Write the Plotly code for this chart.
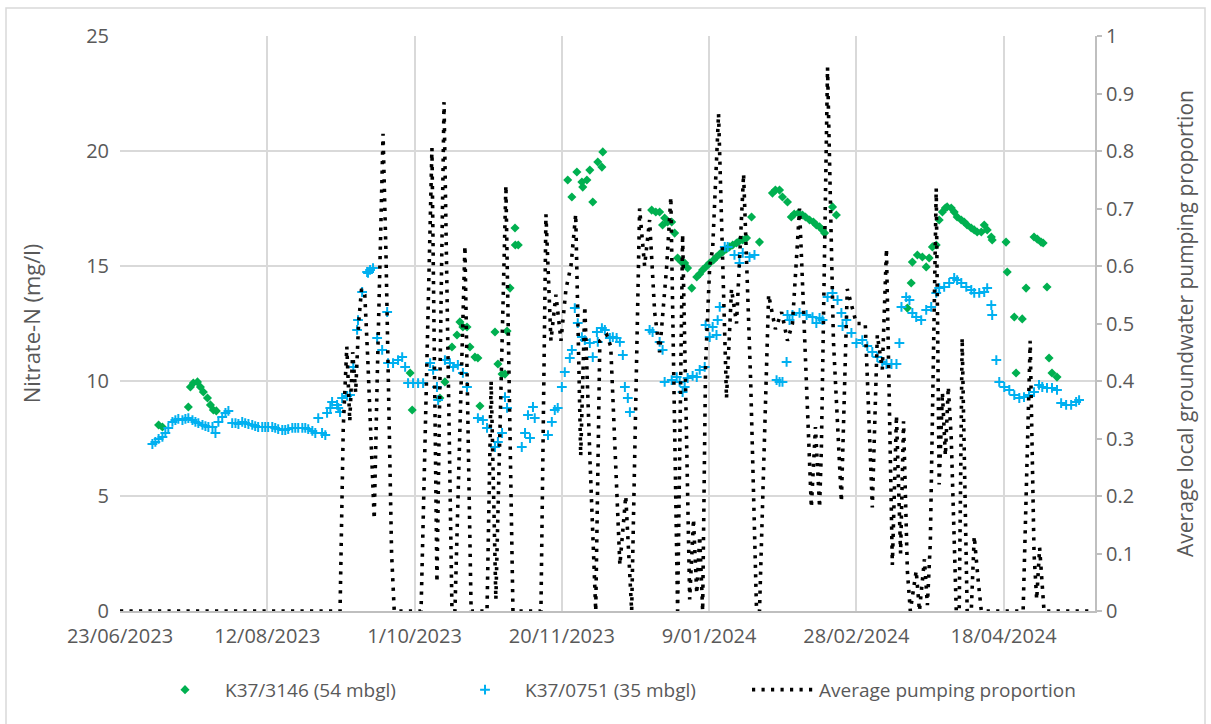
import pandas as pd
import plotly.graph_objects as go

START = pd.Timestamp("2023-06-23")
END_DAY = 331
TICK_DAYS = [0, 50, 100, 150, 200, 250, 300]

# K37/3146 (54 mbgl): sample day (days after START) and nitrate-N (mg/l)
k3146_day = [13.1, 14.4, 23.2, 23.9, 24.9, 26.3, 27.3, 28.3, 29.7, 30.7, 31.7, 32.7,
             98.5, 99.2, 108.6, 110.3, 112.7, 114.4, 115.4, 116.4, 117.8, 118.8, 120.5,
             121.5, 122.2, 127.3, 128.3, 129.7, 130.7, 131.4, 132.4, 134.1, 134.2, 135.2,
             152.0, 153.4, 155.1, 156.8, 157.1, 158.5, 159.5, 160.5, 162.2, 163.6, 163.9,
             180.5, 181.9, 183.2, 184.2, 184.9, 185.9, 187.3, 188.3, 189.3, 190.7, 191.7,
             192.7, 194.1, 195.8, 196.8, 197.8, 199.2, 200.2, 201.5, 202.5, 203.6, 204.6,
             205.9, 206.9, 208.0, 209.3, 210.3, 211.4, 212.7, 214.4, 217.1,
             221.5, 222.5, 223.9, 224.9, 226.6, 227.9, 228.9, 230.3, 231.7, 232.7, 234.1,
             235.4, 236.4, 237.5, 238.5, 239.2, 241.9, 243.2,
             267.3, 268.6, 269.0, 270.7, 272.4, 273.7, 274.7, 275.8, 277.1, 278.1, 279.2,
             280.2, 280.8, 282.2, 283.2, 284.2, 285.6, 286.6, 287.6, 289.0, 290.0, 291.0,
             292.4, 293.4, 294.4, 295.8, 296.1, 300.8, 301.2, 303.6, 304.2, 306.3, 307.6,
             310.3, 311.4, 312.7, 313.4, 314.7, 315.4, 316.4, 318.1]
k3146_no3 = [8.09, 8.00, 8.87, 9.74, 9.91, 9.96, 9.74, 9.52, 9.26, 8.96, 8.74, 8.70,
             10.35, 8.74, 9.26, 9.96, 11.48, 12.00, 12.57, 12.35, 12.35, 11.48, 11.04,
             11.00, 8.91, 12.13, 10.74, 10.30, 10.30, 12.17, 14.04, 16.65, 15.91, 15.91,
             18.74, 18.00, 19.09, 18.65, 18.43, 18.74, 19.17, 17.78, 19.52, 19.30, 19.96,
             17.43, 17.35, 17.35, 16.78, 17.09, 16.91, 16.91, 16.43, 15.35, 15.17, 15.13,
             14.91, 14.04, 14.52, 14.65, 14.83, 15.00, 15.13, 15.26, 15.39, 15.52, 15.61,
             15.74, 15.83, 15.91, 16.00, 16.09, 16.13, 16.22, 17.13, 16.04,
             18.17, 18.30, 18.30, 18.00, 17.78, 17.13, 17.26, 17.30, 17.22, 17.13, 17.00,
             16.91, 16.78, 16.70, 16.57, 16.43, 17.57, 17.22,
             13.17, 14.26, 15.17, 15.48, 15.39, 14.96, 15.35, 15.83, 15.91, 17.00, 17.35,
             17.52, 17.57, 17.52, 17.35, 17.13, 17.00, 16.91, 16.78, 16.65, 16.57, 16.48,
             16.48, 16.78, 16.57, 16.26, 16.13, 16.04, 14.74, 12.78, 10.35, 12.70, 14.04,
             16.26, 16.17, 16.04, 16.00, 14.09, 11.00, 10.35, 10.17]

# K37/0751 (35 mbgl): sample day (days after START) and nitrate-N (mg/l)
k0751_day = [11.0, 12.0, 13.1, 14.4, 15.4, 16.4, 17.8, 18.8, 19.8, 21.2, 22.2, 23.2,
             24.6, 25.6, 26.6, 28.0, 29.0, 30.0, 31.4, 32.4, 33.4, 34.7, 35.8, 36.8,
             38.1, 39.2, 40.2, 41.5, 42.5, 43.6, 44.9, 45.9, 46.9, 48.3, 49.3, 50.3,
             51.7, 52.7, 53.7, 55.1, 56.1, 57.1, 58.5, 59.5, 60.5, 61.9, 62.9, 63.9,
             65.3, 66.3, 67.3, 68.6, 69.7, 70.3, 71.4, 72.0, 73.7, 74.1, 74.7, 75.4,
             77.1, 78.1, 79.2, 80.5, 80.8, 82.2, 83.9, 84.2, 84.9, 85.9, 87.3, 89.0,
             90.7, 91.0, 92.7, 94.4, 95.8, 96.8, 97.8, 99.5, 101.2, 102.9, 105.3, 106.3,
             107.6, 108.0, 110.3, 112.0, 113.1, 114.7, 116.4, 117.8, 121.5, 123.2, 124.6,
             127.3, 128.3, 129.7, 130.7, 131.4, 136.4, 137.5, 138.5, 139.2, 140.2, 140.8,
             145.3, 146.6, 147.6, 148.6, 150.0, 151.0, 152.7, 153.4, 154.4, 155.4, 156.8,
             157.8, 159.5, 160.5, 161.9, 162.2, 163.6, 164.6, 166.3, 167.3, 168.6, 169.7,
             170.7, 171.4, 172.4, 173.1, 179.8, 180.8, 183.2, 184.2, 184.9, 187.3, 189.0,
             190.0, 191.0, 191.7, 192.7, 194.4, 195.8, 196.8, 198.5, 198.8, 200.2, 201.2,
             202.5, 202.9, 203.6, 205.3, 206.3, 208.6, 210.3, 211.4, 213.7, 215.4,
             222.9, 223.9, 224.9, 226.3, 226.6, 227.3, 228.3, 230.7, 233.1, 235.1, 236.4,
             237.5, 238.5, 240.2, 241.9, 243.6, 244.9, 245.3, 246.6, 248.3, 250.0, 252.0,
             253.7, 255.4, 257.1, 258.8, 260.2, 261.9, 263.6, 264.6, 265.3, 266.9, 268.0,
             269.0, 270.3, 272.0, 273.7, 275.4, 277.1, 278.1, 279.8, 281.5, 283.2, 284.2,
             285.6, 287.3, 289.0, 290.0, 291.7, 293.4, 294.4, 295.8, 296.1, 297.5, 298.5,
             300.2, 301.9, 303.6, 305.3, 306.9, 308.6, 310.3, 312.0, 313.1, 314.7, 316.4,
             318.1, 319.5, 321.2, 322.9, 324.6, 325.6]
k0751_no3 = [7.26, 7.35, 7.48, 7.57, 7.74, 7.96, 8.22, 8.30, 8.35, 8.30, 8.35, 8.39,
             8.30, 8.22, 8.17, 8.09, 8.04, 8.00, 8.00, 7.74, 8.22, 8.43, 8.61, 8.70,
             8.17, 8.17, 8.13, 8.22, 8.17, 8.13, 8.09, 8.04, 8.00, 8.00, 8.00, 8.00,
             8.00, 7.96, 7.91, 7.87, 7.87, 7.91, 7.96, 7.96, 7.96, 7.96, 7.96, 7.91,
             7.83, 7.74, 8.39, 7.74, 7.65, 8.61, 8.83, 9.09, 8.96, 8.83, 8.65, 9.26,
             9.35, 9.39, 10.61, 12.22, 12.65, 13.87, 14.74, 14.70, 14.83, 14.91, 11.87, 11.35,
             13.00, 10.78, 10.78, 10.91, 11.04, 10.61, 9.91, 9.91, 9.91, 9.91, 10.78, 10.48,
             9.74, 9.17, 10.91, 10.78, 10.61, 10.70, 10.35, 9.74, 8.39, 8.30, 7.96,
             7.13, 7.35, 7.74, 9.30, 8.83, 7.13, 7.74, 8.52, 7.52, 8.87, 8.39,
             7.65, 8.22, 8.74, 8.83, 9.74, 10.39, 11.00, 11.35, 13.17, 12.52, 11.91,
             11.78, 11.65, 11.04, 12.13, 11.70, 12.30, 12.22, 11.87, 11.91, 11.87, 11.70,
             11.13, 9.74, 9.26, 8.65, 12.22, 12.13, 11.70, 11.35, 9.96, 10.04, 10.17,
             9.96, 9.52, 9.74, 10.13, 10.22, 10.17, 10.48, 10.61, 12.43, 11.91, 12.35,
             12.00, 12.65, 13.22, 15.83, 15.83, 15.48, 15.13, 15.57, 15.39, 15.48,
             10.04, 9.96, 9.96, 10.83, 12.87, 12.65, 12.87, 12.96, 12.87, 12.78, 12.52,
             12.74, 12.65, 13.65, 13.83, 13.52, 12.96, 12.39, 12.65, 12.09, 11.65, 11.78,
             11.52, 11.26, 11.04, 10.83, 10.74, 10.74, 10.74, 11.65, 13.22, 13.65, 13.52,
             12.96, 12.78, 12.65, 13.09, 13.22, 13.83, 14.04, 14.09, 14.26, 14.48, 14.39,
             14.26, 14.09, 13.96, 13.83, 13.83, 13.87, 14.04, 13.30, 12.87, 10.91, 9.96,
             9.74, 9.61, 9.39, 9.26, 9.30, 9.39, 9.52, 9.83, 9.74, 9.70, 9.70,
             9.61, 9.04, 8.96, 8.96, 9.09, 9.17]

# Average local groundwater pumping proportion (secondary axis)
pump_day = [0, 74.7, 75.8, 77.0, 78.0, 79.0, 80.0, 81.0, 82.0, 83.1, 84.1, 85.1, 86.3,
            87.3, 88.3, 89.3, 90.3, 91.4, 92.2, 93.1, 102.2, 105.9, 107.6, 110.0, 112.7,
            113.7, 117.1, 119.2, 124.6, 126.0, 127.6, 131.0, 133.4, 142.9, 144.6, 146.3,
            148.0, 149.7, 151.4, 153.1, 154.7, 156.4, 157.8, 159.5, 161.5, 162.9, 165.3,
            166.6, 169.7, 171.7, 173.7, 176.4, 178.1, 179.8, 181.5, 183.2, 185.6, 187.0,
            189.3, 191.0, 193.4, 194.7, 195.8, 196.8, 197.8, 198.8, 200.2, 201.2, 203.2,
            205.9, 207.6, 209.3, 211.7, 214.1, 216.1, 217.1, 220.2, 222.5, 224.6, 226.6,
            228.3, 230.7, 233.7, 234.7, 236.1, 237.5, 238.1, 240.2, 242.2, 244.9, 246.9,
            250.0, 253.0, 255.4, 257.1, 258.8, 260.2, 262.2, 263.6, 265.0, 266.0, 267.3,
            268.3, 269.3, 270.3, 271.4, 272.4, 273.1, 274.1, 275.1, 277.1, 278.1, 279.2,
            280.2, 281.2, 282.2, 283.9, 284.9, 285.9, 287.6, 289.0, 290.0, 291.4, 292.4,
            306.6, 309.0, 310.3, 311.2, 312.2, 313.7, 329.0]
pump_frac = [0, 0, 0.32, 0.46, 0.33, 0.45, 0.38, 0.50, 0.56, 0.55, 0.44, 0.30, 0.16,
             0.40, 0.62, 0.83, 0.62, 0.35, 0.10, 0.0, 0.0, 0.805, 0.05, 0.885, 0.0,
             0.0, 0.635, 0.0, 0.0, 0.40, 0.02, 0.74, 0.0, 0.0, 0.69, 0.47,
             0.55, 0.47, 0.56, 0.60, 0.69, 0.27, 0.53, 0.27, 0.0, 0.47, 0.48,
             0.46, 0.08, 0.20, 0.0, 0.70, 0.60, 0.68, 0.52, 0.45, 0.60, 0.72,
             0.0, 0.655, 0.02, 0.16, 0.03, 0.13, 0.0, 0.43, 0.60, 0.63, 0.865,
             0.37, 0.56, 0.50, 0.76, 0.40, 0.0, 0.0, 0.55, 0.49, 0.52, 0.47,
             0.50, 0.70, 0.30, 0.18, 0.32, 0.18, 0.28, 0.945, 0.47, 0.19, 0.56,
             0.50, 0.50, 0.18, 0.48, 0.42, 0.63, 0.08, 0.34, 0.10, 0.33, 0.07,
             0.0, 0.04, 0.07, 0.0, 0.05, 0.09, 0.01, 0.12, 0.735, 0.22, 0.38,
             0.27, 0.39, 0.30, 0.0, 0.0, 0.475, 0.0, 0.0, 0.13, 0.05, 0.0,
             0.0, 0.47, 0.10, 0.02, 0.11, 0.0, 0.0]


def as_dates(days):
    return START + pd.to_timedelta(days, unit="D")


TEXT = "#595959"
GRID = "#d9d9d9"
FONT = "Open Sans"

fig = go.Figure()

fig.add_trace(go.Scatter(
    x=as_dates(k3146_day), y=k3146_no3, mode="markers", name="K37/3146 (54 mbgl)",
    marker=dict(symbol="diamond", size=7, color="#00B050", line=dict(width=0)),
    legend="legend",
))
fig.add_trace(go.Scatter(
    x=as_dates(k0751_day), y=k0751_no3, mode="markers", name="K37/0751 (35 mbgl)",
    marker=dict(symbol="cross-thin", size=7, color="#00B0F0",
                line=dict(width=2, color="#00B0F0")),
    legend="legend2",
))
fig.add_trace(go.Scatter(
    x=as_dates(pump_day), y=pump_frac, mode="lines", name="Average pumping proportion",
    line=dict(color="#000000", width=3.6, dash="3.2px,6.3px"),
    yaxis="y2", legend="legend3",
))

legend_common = dict(orientation="h", yanchor="middle", y=-0.137, xanchor="left",
                     bgcolor="rgba(0,0,0,0)", font=dict(family=FONT, size=19, color=TEXT))

fig.update_layout(
    width=1211, height=724,
    margin=dict(l=120, r=116, t=36, b=113),
    paper_bgcolor="white", plot_bgcolor="white",
    font=dict(family=FONT, color=TEXT, size=18),
    xaxis=dict(
        type="date",
        range=[START, START + pd.Timedelta(days=END_DAY)],
        tickmode="array",
        tickvals=list(as_dates(TICK_DAYS)),
        tickformat="%-d/%m/%Y",
        showgrid=True, gridcolor=GRID, gridwidth=2,
        showline=True, linecolor="#bfbfbf", linewidth=2,
        ticks="", zeroline=False, ticklabelstandoff=6,
        tickfont=dict(size=20, color=TEXT),
    ),
    yaxis=dict(
        range=[0, 25], dtick=5, tick0=0,
        showgrid=True, gridcolor=GRID, gridwidth=2,
        zeroline=False, showline=False, ticks="", ticklabelstandoff=10,
        tickfont=dict(size=20, color=TEXT),
        title=dict(text="Nitrate-N (mg/l)", font=dict(size=22, color=TEXT), standoff=39),
    ),
    yaxis2=dict(
        overlaying="y", side="right",
        range=[0, 1], dtick=0.1, tick0=0,
        showgrid=False, zeroline=False,
        showline=True, linecolor="#bfbfbf", linewidth=2,
        ticks="outside", ticklen=5, tickcolor="#bfbfbf", tickwidth=2,
        tickfont=dict(size=20, color=TEXT),
        title=dict(text="Average local groundwater pumping proportion",
                   font=dict(size=21, color=TEXT), standoff=45),
    ),
    legend=dict(legend_common, x=(145 - 120) / 975, itemwidth=70),
    legend2=dict(legend_common, x=(445 - 120) / 975, itemwidth=70),
    legend3=dict(legend_common, x=(747 - 120) / 975, itemwidth=62),
    showlegend=True,
    shapes=[dict(type="rect", xref="paper", yref="paper",
                 x0=(6 - 120) / 975, x1=(1205 - 120) / 975,
                 y0=(611 - 730) / 575, y1=(611 - 8) / 575,
                 line=dict(color="#d9d9d9", width=1.5), layer="below")],
)

fig.write_html("out.html")
